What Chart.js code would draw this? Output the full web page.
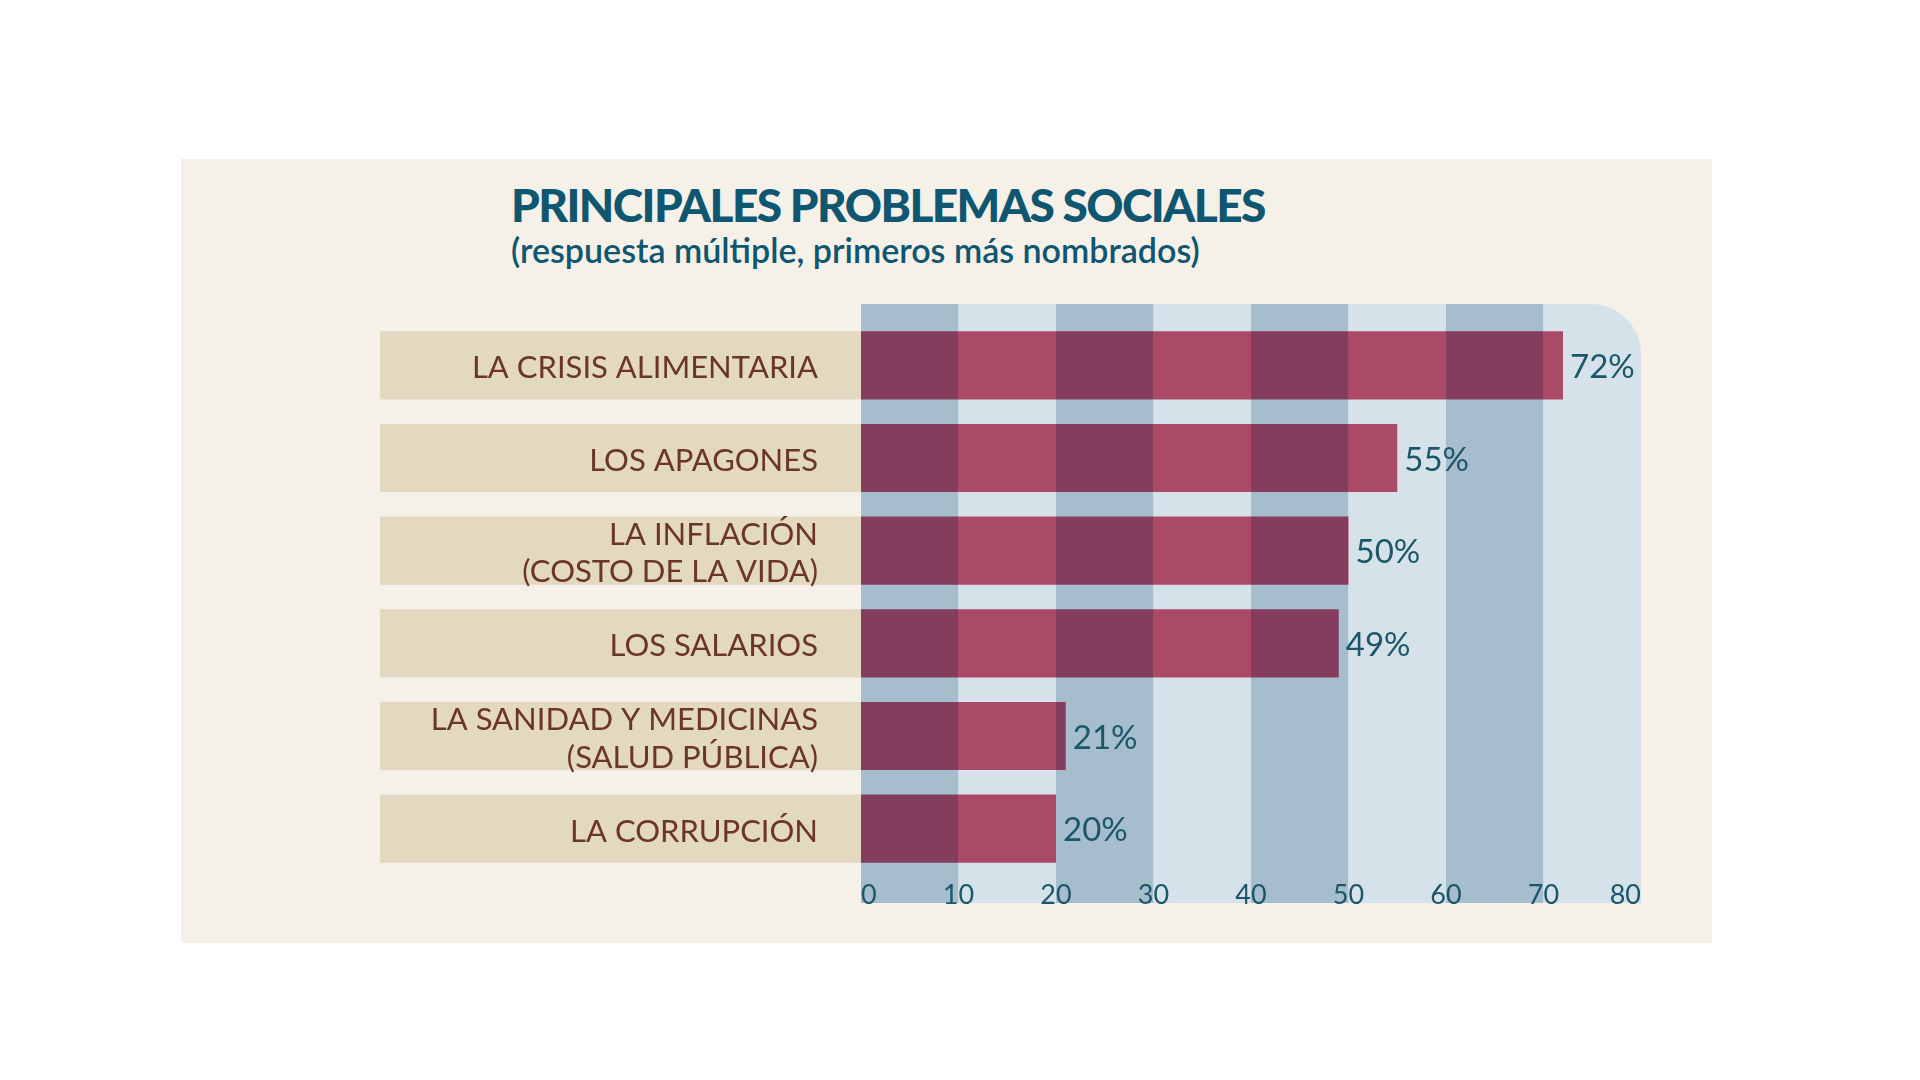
<!DOCTYPE html>
<html lang="es">
<head>
    <meta charset="UTF-8">
    <title>Principales problemas sociales</title>
    <script src="https://cdn.jsdelivr.net/npm/chart.js"></script>
    <style>
        body { margin: 0; background: #ffffff; width: 1920px; height: 1080px; position: relative; font-family: Lato, sans-serif; }
        #panel { position: absolute; left: 181px; top: 159px; width: 1531px; height: 784px; background: #f5f0e8; }
        .t { position: absolute; left: 511px; line-height: 1; color: #0f5670; white-space: nowrap; }
        #title { top: 182px; font-size: 46px; font-weight: 900; letter-spacing: -1.6px; }
        #subtitle { top: 233px; font-size: 34px; font-weight: 600; }
        #wrap { position: absolute; left: 380px; top: 290px; width: 1290px; height: 640px; }
    </style>
</head>
<body>
    <div id="panel"></div>
    <div class="t" id="title">PRINCIPALES PROBLEMAS SOCIALES</div>
    <div class="t" id="subtitle">(respuesta múltiple, primeros más nombrados)</div>
    <div id="wrap"><canvas id="chart" width="1290" height="640"></canvas></div>

    <script>
        const categories = [
            'LA CRISIS ALIMENTARIA',
            'LOS APAGONES',
            ['LA INFLACIÓN', '(COSTO DE LA VIDA)'],
            'LOS SALARIOS',
            ['LA SANIDAD Y MEDICINAS', '(SALUD PÚBLICA)'],
            'LA CORRUPCIÓN'
        ];
        const values = [72, 55, 50, 49, 21, 20];
        const xTicks = [0, 10, 20, 30, 40, 50, 60, 70, 80];

        const bandDark = '#a5bdcc', bandLight = '#d6e2ea';
        const barDark = '#843d5c', barLight = '#ab4a67';
        const labelBg = '#e3d9c0';

        // bar fill changes shade on every 10-point band
        function barFill(chart) {
            const area = chart.chartArea;
            if (!area) return barLight;
            const x = chart.scales.x;
            const g = chart.ctx.createLinearGradient(area.left, 0, area.right, 0);
            const w = area.right - area.left;
            for (let i = 0; i < xTicks.length - 1; i++) {
                const a = (x.getPixelForValue(xTicks[i]) - area.left) / w;
                const b = (x.getPixelForValue(xTicks[i + 1]) - area.left) / w;
                const c = i % 2 === 0 ? barDark : barLight;
                g.addColorStop(Math.max(0, a), c);
                g.addColorStop(Math.min(1, b), c);
            }
            return g;
        }

        const backdrop = {
            id: 'backdrop',
            beforeDraw(chart) {
                const { ctx, chartArea } = chart;
                const x = chart.scales.x;
                const top = chartArea.top - 15, bottom = chartArea.bottom + 28;
                ctx.save();
                for (let i = 0; i < xTicks.length - 1; i++) {
                    const x0 = x.getPixelForValue(xTicks[i]);
                    const x1 = x.getPixelForValue(xTicks[i + 1]);
                    ctx.fillStyle = i % 2 === 0 ? bandDark : bandLight;
                    ctx.beginPath();
                    if (i === xTicks.length - 2) {
                        ctx.roundRect(x0, top, x1 - x0, bottom - top, [0, 50, 0, 0]);
                    } else {
                        ctx.rect(x0, top, x1 - x0, bottom - top);
                    }
                    ctx.fill();
                }
                // label boxes behind category names
                ctx.fillStyle = labelBg;
                chart.getDatasetMeta(0).data.forEach(bar => {
                    ctx.fillRect(0, bar.y - bar.height / 2, chartArea.left, bar.height);
                });
                ctx.restore();
            },
            afterDatasetsDraw(chart) {
                const { ctx, chartArea } = chart;
                const x = chart.scales.x;
                ctx.save();
                ctx.fillStyle = '#1b5669';
                ctx.font = '33px Lato';
                ctx.textBaseline = 'middle';
                ctx.textAlign = 'left';
                chart.getDatasetMeta(0).data.forEach((bar, i) => {
                    ctx.fillText(values[i] + '%', bar.x + 7, bar.y + 2);
                });
                ctx.font = '27px Lato';
                ctx.textBaseline = 'alphabetic';
                xTicks.forEach((t, i) => {
                    ctx.textAlign = i === 0 ? 'left' : (i === xTicks.length - 1 ? 'right' : 'center');
                    ctx.fillText(String(t), x.getPixelForValue(t), chartArea.bottom + 29);
                });
                ctx.restore();
            }
        };

        new Chart(document.getElementById('chart'), {
            type: 'bar',
            data: {
                labels: categories,
                datasets: [{
                    data: values,
                    backgroundColor: c => barFill(c.chart),
                    barPercentage: 1,
                    categoryPercentage: 0.736
                }]
            },
            options: {
                indexAxis: 'y',
                responsive: false,
                devicePixelRatio: 1,
                animation: false,
                layout: { padding: { top: 29, bottom: 55, right: 29, left: 0 } },
                plugins: { legend: { display: false }, tooltip: { enabled: false } },
                scales: {
                    x: { display: false, min: 0, max: 80 },
                    y: {
                        grid: { display: false, drawTicks: false },
                        border: { display: false },
                        ticks: { color: '#6b3628', font: { family: 'Lato', size: 31, lineHeight: 1.2 }, padding: 43, labelOffset: 3 },
                        afterFit(scale) {
                            scale.width = 481;
                            scale.paddingTop = 0;
                            scale.paddingBottom = 0;
                        }
                    }
                }
            },
            plugins: [backdrop]
        });
    </script>
</body>
</html>
